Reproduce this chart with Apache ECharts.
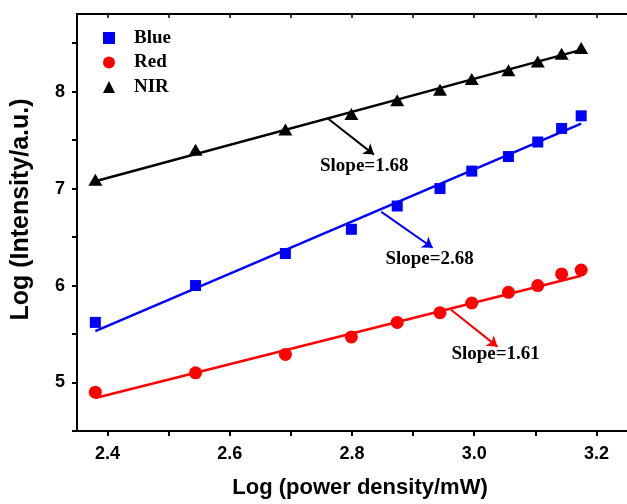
<!DOCTYPE html>
<html>
<head>
<meta charset="utf-8">
<script src="https://cdn.jsdelivr.net/npm/echarts@6/dist/echarts.min.js"></script>
<style>
  html, body { margin: 0; padding: 0; background: #fff; }
  #chart { width: 627px; height: 504px; }
</style>
</head>
<body>
<div id="chart"></div>
<script>
// log power density (x) and log intensity per band
const xValues = [2.380, 2.544, 2.691, 2.799, 2.874, 2.944, 2.996, 3.056, 3.104, 3.143, 3.175];
const blueValues = [5.62, 6.00, 6.33, 6.58, 6.82, 7.00, 7.18, 7.33, 7.48, 7.62, 7.75];
const redValues = [4.90, 5.10, 5.29, 5.47, 5.62, 5.72, 5.82, 5.93, 6.00, 6.12, 6.16];
const nirValues = [7.09, 7.40, 7.61, 7.77, 7.91, 8.02, 8.13, 8.22, 8.31, 8.39, 8.45];

// linear fits, ends at first and last x
const fitX = [2.38, 3.175];
const blueFit = [5.53, 7.67];
const redFit = [4.84, 6.10];
const nirFit = [7.075, 8.43];

// slope annotations
const slopeTexts = ['Slope=1.68', 'Slope=2.68', 'Slope=1.61'];
const slopeColors = ['#000000', '#0000ff', '#ff0000'];
const arrowFrom = [[2.761, 7.72], [2.848, 6.76], [2.962, 5.75]];
const arrowTo = [[2.836, 7.35], [2.932, 6.39], [3.038, 5.37]];
const textAt = [[2.820, 7.23], [2.927, 6.27], [3.035, 5.29]];

// ticks
const xTicks = [2.4, 2.5, 2.6, 2.7, 2.8, 2.9, 3.0, 3.1, 3.2];
const xLabels = [2.4, 2.6, 2.8, 3.0, 3.2];
const yTicks = [4.5, 5, 5.5, 6, 6.5, 7, 7.5, 8, 8.5];
const yLabels = [5, 6, 7, 8];

const sans = 'Liberation Sans';
const serif = 'Liberation Serif';

const zip = (xs, ys) => xs.map((x, i) => [x, ys[i]]);

const chart = echarts.init(document.getElementById('chart'));

const fitLine = (vals, color) => ({
  type: 'line',
  data: zip(fitX, vals),
  showSymbol: false,
  silent: true,
  lineStyle: { color: color, width: 2.5 },
  z: 1
});

const points = (name, vals, symbol, size, color) => ({
  name: name,
  type: 'scatter',
  data: zip(xValues, vals),
  symbol: symbol,
  symbolSize: size,
  itemStyle: { color: color, opacity: 1 },
  z: 3
});

const option = {
  animation: false,
  backgroundColor: '#fff',
  grid: { left: 77, top: 14, width: 552, height: 418 },
  legend: {
    data: ['Blue', 'Red', 'NIR'],
    orient: 'vertical',
    left: 98,
    top: 23.5,
    itemWidth: 12,
    itemHeight: 12,
    itemGap: 5.5,
    textStyle: {
      fontFamily: serif, fontWeight: 'bold', fontSize: 19, lineHeight: 19,
      color: '#000', padding: [0, 0, 0, 14]
    }
  },
  xAxis: [{
    type: 'value',
    min: 2.35,
    max: 3.25,
    name: 'Log (power density/mW)',
    nameLocation: 'middle',
    nameGap: 46,
    nameTextStyle: {
      fontFamily: sans, fontWeight: 'bold', fontSize: 22, color: '#000',
      padding: [0, 0, 0, 16]
    },
    axisLine: { lineStyle: { color: '#000', width: 2 } },
    axisTick: { customValues: xTicks, length: 5, lineStyle: { color: '#000', width: 2 } },
    axisLabel: {
      customValues: xLabels, margin: 14,
      fontFamily: sans, fontWeight: 'bold', fontSize: 18, color: '#000',
      formatter: v => v.toFixed(1)
    },
    splitLine: { show: false }
  }, {
    type: 'value',
    position: 'top',
    min: 2.35,
    max: 3.25,
    axisLine: { lineStyle: { color: '#000', width: 2 } },
    axisTick: { inside: true, customValues: xTicks, length: 4, lineStyle: { color: '#000', width: 1.5 } },
    axisLabel: { show: false },
    splitLine: { show: false }
  }],
  yAxis: {
    type: 'value',
    min: 4.5,
    max: 8.8,
    name: 'Log (Intensity/a.u.)',
    nameLocation: 'middle',
    nameGap: 43,
    nameTextStyle: {
      fontFamily: sans, fontWeight: 'bold', fontSize: 25, color: '#000',
      padding: [0, 0, 0, 26]
    },
    axisLine: { show: true, lineStyle: { color: '#000', width: 2 } },
    axisTick: { show: true, customValues: yTicks, length: 5, lineStyle: { color: '#000', width: 2 } },
    axisLabel: {
      customValues: yLabels, margin: 12,
      fontFamily: sans, fontWeight: 'bold', fontSize: 18, color: '#000'
    },
    splitLine: { show: false }
  },
  series: [
    fitLine(blueFit, '#0000ff'),
    fitLine(redFit, '#ff0000'),
    fitLine(nirFit, '#000000'),
    points('Blue', blueValues, 'rect', 11, '#0000ff'),
    points('Red', redValues, 'circle', 13, '#ff0000'),
    points('NIR', nirValues, 'triangle', [14, 12], '#000000'),
    {
      type: 'lines',
      coordinateSystem: 'cartesian2d',
      silent: true,
      symbol: ['none', 'arrow'],
      symbolSize: 10,
      data: slopeTexts.map((t, i) => ({
        coords: [arrowFrom[i], arrowTo[i]],
        lineStyle: { color: slopeColors[i], width: 2, opacity: 1 }
      })),
      z: 4
    },
    {
      type: 'scatter',
      silent: true,
      symbolSize: 1,
      itemStyle: { color: 'transparent', opacity: 1 },
      data: textAt.map((p, i) => ({ value: p, name: slopeTexts[i] })),
      label: {
        show: true, position: 'inside', formatter: p => p.name,
        fontFamily: serif, fontWeight: 'bold', fontSize: 19, color: '#000'
      },
      z: 5
    }
  ]
};

chart.setOption(option);
</script>
</body>
</html>
